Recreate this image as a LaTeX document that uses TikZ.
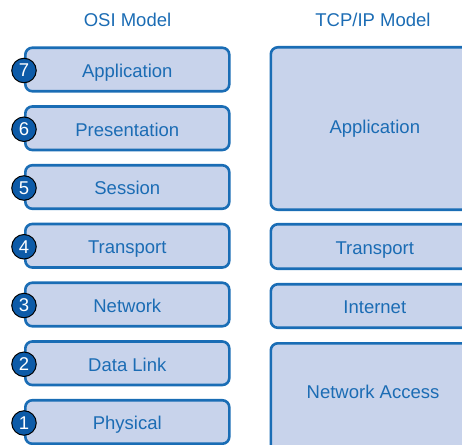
\documentclass[tikz,border=0pt]{standalone}
\usepackage{fontspec}
\setmainfont{Liberation Sans}
\definecolor{layerfill}{HTML}{C8D3EB}
\definecolor{layerline}{HTML}{1A6DB5}
\definecolor{layertext}{HTML}{1B6CB4}
\definecolor{badgefill}{HTML}{0D5BA8}
\tikzset{
  layer/.style={draw=layerline, line width=2.6pt, fill=layerfill,
    rounded corners=7pt, text=layertext, inner sep=0pt,
    text height=15.6pt, text depth=0pt,
    font=\fontsize{18.5}{20}\selectfont},
  osilayer/.style={layer, minimum width=204pt, minimum height=43.5pt},
  tcplayer/.style={layer, minimum width=208pt},
  badge/.style={circle, draw=black, line width=1pt, fill=badgefill,
    text=white, minimum size=24.5pt, inner sep=0pt,
    font=\fontsize{18.5}{20}\selectfont},
  heading/.style={text=layertext, inner sep=0pt,
    text height=13.2pt, text depth=0pt,
    font=\fontsize{18.5}{20}\selectfont},
  lbl/.style={text=layertext, inner sep=0pt,
    text height=13.2pt, text depth=0pt,
    font=\fontsize{18.5}{20}\selectfont}
}
\begin{document}
\begin{tikzpicture}[x=1pt,y=-1pt]
\useasboundingbox (0,0) rectangle (462,444);
\clip (0,0) rectangle (462,444);

% column headings
\node[heading] (osititle) at (127.5,20) {OSI Model};
\node[heading] (tcptitle) at (373,20) {TCP/IP Model};

% OSI seven-layer stack
\node[osilayer] (osi7) at (127.3,69.5)   {Application};
\node[osilayer] (osi6) at (127.3,128.25) {Presentation};
\node[osilayer] (osi5) at (127.3,187)    {Session};
\node[osilayer] (osi4) at (127.3,245.75) {Transport};
\node[osilayer] (osi3) at (127.3,304.5)  {Network};
\node[osilayer] (osi2) at (127.3,363.25) {Data Link};
\node[osilayer] (osi1) at (127.3,422)    {Physical};

% layer numbers on the left edge
\foreach \n in {7,6,5,4,3,2,1}
  \node[badge] (num\n) at ([yshift=-1pt]osi\n.west) {\n};

% TCP/IP four-layer stack
\node[tcplayer, minimum height=162.4pt, text height=9.6pt] (tcpapp) at (374.8,128.5) {Application};
\node[tcplayer, minimum height=44.5pt]  (tcptrans) at (374.8,246.5) {Transport};
\node[tcplayer, minimum height=43.5pt]  (tcpnet) at (374.8,306) {Internet};
\node[tcplayer, minimum height=117pt]   (tcpacc) at (374.8,401.8) {};
\node[lbl] (tcpacctext) at (373,391.5) {Network Access};
\end{tikzpicture}
\end{document}
